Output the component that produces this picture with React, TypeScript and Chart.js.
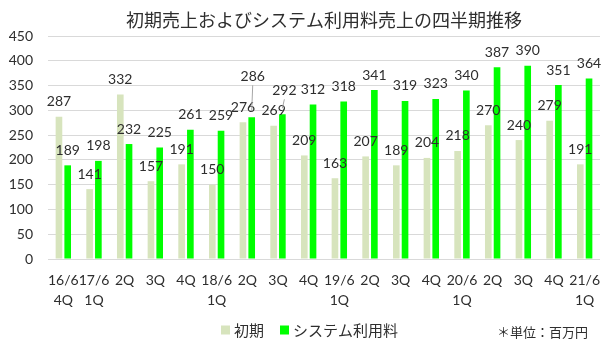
import React, { useEffect, useRef } from "react";
import { Chart, registerables } from "chart.js";

Chart.register(...registerables);

const chartTitle = "初期売上およびシステム利用料売上の四半期推移";
const unitNote = "＊単位：百万円";
const seriesNames = ["初期", "システム利用料"];
const categories: (string | string[])[] = [
  ["16/6", "4Q"], ["17/6", "1Q"], "2Q", "3Q", "4Q",
  ["18/6", "1Q"], "2Q", "3Q", "4Q",
  ["19/6", "1Q"], "2Q", "3Q", "4Q",
  ["20/6", "1Q"], "2Q", "3Q", "4Q",
  ["21/6", "1Q"],
];
const initialSales = [287, 141, 332, 157, 191, 150, 276, 269, 209, 163, 207, 189, 204, 218, 270, 240, 279, 191];
const systemFees = [189, 198, 232, 225, 261, 259, 286, 292, 312, 318, 341, 319, 323, 340, 387, 390, 351, 364];
const yMin = 0;
const yMax = 450;
const yStep = 50;

const TEXT = "#2e2e2e";
const LIGHT = "#d7e4bd";
const GREEN = "#00ff00";
const FONT = "Lato, 'Noto Sans CJK JP', sans-serif";
const JFONT = "'Noto Sans CJK JP', Lato, sans-serif";

// label placement tweaks (dataset-index -> lift and x shift), with leader lines
const labelTweaks: Record<string, { lift: number; dx: number }> = {
  "1-6": { lift: 41, dx: 1 },
  "1-7": { lift: 24, dx: 2 },
};

const overlayPlugin = {
  id: "overlay",
  afterDatasetsDraw(chart: any) {
    const ctx = chart.ctx;
    ctx.save();
    ctx.font = `14px ${FONT}`;
    ctx.fillStyle = TEXT;
    ctx.textAlign = "center";
    ctx.textBaseline = "middle";
    chart.data.datasets.forEach((ds: any, di: number) => {
      const meta = chart.getDatasetMeta(di);
      meta.data.forEach((bar: any, i: number) => {
        const tw = labelTweaks[`${di}-${i}`];
        const lift = tw ? tw.lift : 15;
        const dx = tw ? tw.dx : 0;
        const x = bar.x + dx;
        const y = bar.y - lift;
        ctx.fillText(String(ds.data[i]), x, y);
        if (tw) {
          ctx.strokeStyle = "#a6a6a6";
          ctx.lineWidth = 1;
          ctx.beginPath();
          ctx.moveTo(x, y + 9);
          ctx.lineTo(bar.x, bar.y - 6);
          ctx.stroke();
        }
      });
    });
    ctx.restore();
  },
  afterDraw(chart: any) {
    const ctx = chart.ctx;
    const area = chart.chartArea;
    ctx.save();
    // title
    ctx.font = `18px ${JFONT}`;
    ctx.fillStyle = TEXT;
    ctx.textAlign = "center";
    ctx.textBaseline = "middle";
    ctx.fillText(chartTitle, (area.left + area.right) / 2, 20);
    // legend
    const colors = [LIGHT, GREEN];
    ctx.font = `15px ${JFONT}`;
    ctx.textAlign = "left";
    const box = 9;
    const gapBox = 4;
    const gapItem = 16;
    const widths = seriesNames.map((n) => ctx.measureText(n).width);
    let x = 221;
    const ly = 330;
    seriesNames.forEach((n, i) => {
      ctx.fillStyle = colors[i];
      ctx.fillRect(x, ly - box / 2, box, box);
      ctx.fillStyle = TEXT;
      ctx.fillText(n, x + box + gapBox, ly);
      x += box + gapBox + widths[i] + gapItem;
    });
    // unit note
    ctx.font = `13px ${JFONT}`;
    ctx.textAlign = "right";
    ctx.fillText(unitNote, 588, 332);
    ctx.restore();
  },
};

export default function App() {
  const ref = useRef<HTMLCanvasElement | null>(null);
  useEffect(() => {
    if (!ref.current) return;
    const chart = new Chart(ref.current, {
      type: "bar",
      data: {
        labels: categories,
        datasets: [
          { label: seriesNames[0], data: initialSales, backgroundColor: LIGHT },
          { label: seriesNames[1], data: systemFees, backgroundColor: GREEN },
        ],
      },
      options: {
        animation: false,
        responsive: true,
        maintainAspectRatio: false,
        layout: { padding: { top: 36, right: 12, left: 0, bottom: 0 } },
        plugins: {
          legend: { display: false },
          title: { display: false },
          tooltip: { enabled: false },
        },
        datasets: {
          bar: { categoryPercentage: 0.57, barPercentage: 0.76 },
        },
        scales: {
          x: {
            grid: { display: false, drawTicks: false },
            border: { display: false },
            ticks: {
              color: TEXT,
              font: { family: FONT, size: 14, lineHeight: 1.43 },
              maxRotation: 0,
              autoSkip: false,
              padding: 11,
            },
            afterFit: (s: any) => {
              s.height = 93;
            },
          },
          y: {
            min: yMin,
            max: yMax,
            grid: { color: "#d9d9d9", drawTicks: false },
            border: { display: false },
            ticks: {
              stepSize: yStep,
              color: TEXT,
              font: { family: FONT, size: 14 },
              padding: 15,
            },
            afterFit: (s: any) => {
              s.width = 48;
            },
          },
        },
      } as any,
      plugins: [overlayPlugin],
    });
    return () => chart.destroy();
  }, []);
  return (
    <div style={{ position: "absolute", left: 0, top: 0, width: 612, height: 352, background: "#fff" }}>
      <canvas ref={ref} />
    </div>
  );
}
